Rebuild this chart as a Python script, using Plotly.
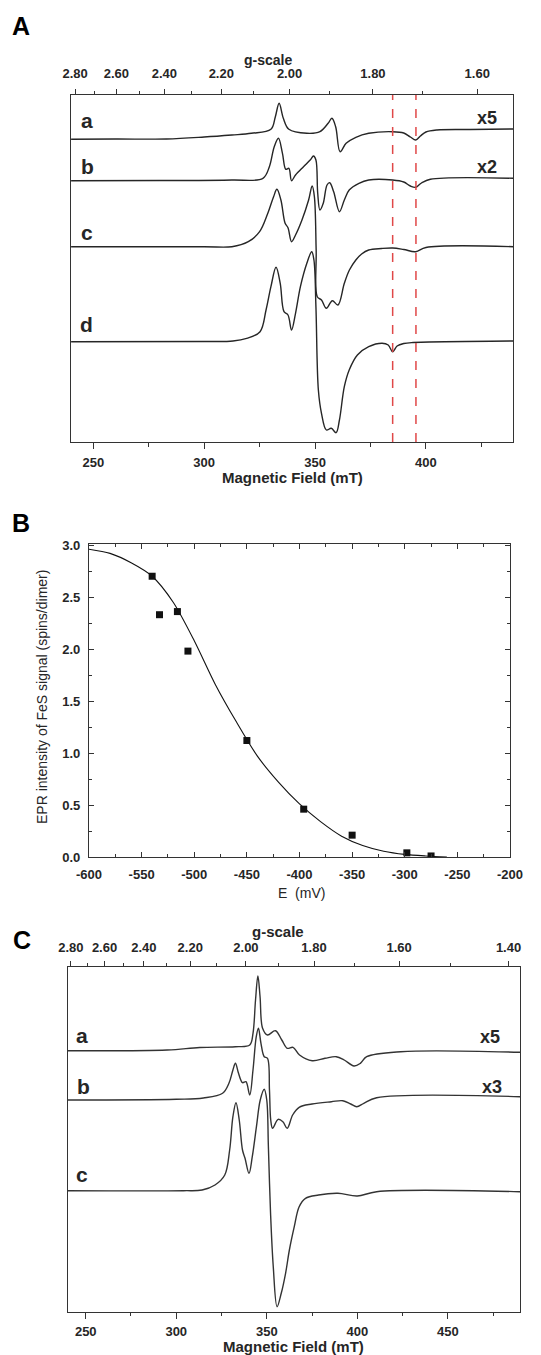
import plotly.graph_objects as go

W, H = 541, 1355
def px(x): return x / W
def py(y): return 1 - y / H

FONT = "Liberation Sans"
INK = "#262626"

# ---------------- Panel A data ----------------
G_CONST = 677.0  # h*nu/muB in mT  (B = G_CONST / g)
A_field_ticks = [250, 300, 350, 400]
A_field_minor = [275, 325, 375, 425]
A_g_major = [2.80, 2.60, 2.40, 2.20, 2.00, 1.80, 1.60]
A_g_minor = [2.70, 2.50, 2.30, 2.10, 1.90, 1.70]
A_red_lines = [385.0, 395.5]

Aa_B = [240, 260, 283, 300, 312.5, 321.3, 330.1, 332.1, 333.8, 335.7, 338.2, 346.3, 352.2, 355.9,
        357.6, 359.3, 361.3, 364, 368.4, 374.2, 385, 390, 393, 395.4, 397.5, 400, 405, 420, 439.5]
Aa_I = [-3.3, -3, -3, -1, 1, 2.7, 6.7, 19.3, 32.7, 17.7, 6.7, 2.7, 4.3, 12.7,
        17.7, 9.3, -15.7, -7.3, -1.3, 2.7, 4.3, 3, -1, -4, 0, 4, 6, 6.5, 7]

Ab_B = [240, 280, 312.5, 326.5, 329.4, 331.6, 333.5, 335.3, 336.8, 338.2, 339.4, 341.2, 344.8, 347.8,
        349.3, 350.4, 351.2, 352.2, 353.7, 355.4, 356.6, 358.4, 361, 363.2, 365.4, 369.8, 374.2, 385,
        390, 393, 395.4, 398, 402, 439.5]
Ab_I = [-0.7, -0.5, 0, 1.7, 13.3, 33.3, 41.7, 26.7, 10.7, 11.7, -0.7, 5, 13.3, 20,
        24, 20, -13.3, -30, -23.3, -5, -2.7, -11.7, -31.7, -20, -10, -3.3, 0, 0,
        -2, -6, -7.3, -3, 0.7, 1.7]

Ac_B = [240, 300, 312.5, 319.9, 325, 328.7, 331.3, 332.8, 334.6, 336.5, 337.8, 339.4, 341.2, 344.1,
        347.1, 348.7, 349.7, 350.5, 351, 352.9, 355.1, 357.8, 360.3, 363.2, 365.5, 368.4, 371, 374.2,
        380, 385, 390, 395.4, 400, 439.5]
Ac_I = [0.3, 0.3, 0.3, 5.3, 15.3, 33.7, 50.3, 57.7, 47, 23.7, 19.3, 5.3, 12, 27,
        47, 61, 50.3, -3, -49.7, -53, -61.3, -53.7, -58, -36.3, -23, -13, -7, -3,
        -1.5, -1, -2.5, -4.7, -0.5, 0.3]

Ad_B = [240, 300, 313, 319.2, 325.2, 327.9, 330.1, 332.4, 334.3, 336, 337.8, 339.4, 341.2, 343.4,
        346.3, 348.5, 349.5, 350.4, 351.5, 352.9, 355.1, 357.3, 359.5, 361, 363.2, 365.4, 369.1, 374.2,
        380.2, 383, 385, 387, 390, 394.2, 439.5]
Ad_I = [-0.2, 0, 0.5, 3.2, 9.8, 31.5, 54.8, 74.2, 58.2, 29.8, 26.5, 11.5, 28.2, 54.8,
        78.2, 89.8, 81.5, 34.8, -48.5, -71.8, -88.5, -86.8, -91.2, -78.5, -45.2, -28.5, -13.5, -5.2,
        -1.8, -3.5, -10.2, -4.5, -2, -1, 0.5]

# ---------------- Panel B data ----------------
B_E_ticks = [-600, -550, -500, -450, -400, -350, -300, -250, -200]
B_E_pts = [-540, -533, -516, -506, -450, -396, -350, -298, -275]
B_S_pts = [2.70, 2.33, 2.36, 1.98, 1.12, 0.46, 0.21, 0.04, 0.01]
B_E_fit = [-600, -580, -560, -540, -520, -500, -480, -460, -440, -420, -400, -380, -360,
           -340, -320, -300, -280, -260]
B_S_fit = [2.96, 2.92, 2.83, 2.70, 2.45, 2.08, 1.66, 1.30, 0.97, 0.72, 0.51, 0.34, 0.20,
           0.11, 0.055, 0.025, 0.01, 0.0]

# ---------------- Panel C data ----------------
C_field_ticks = [250, 300, 350, 400, 450]
C_field_minor = [275, 325, 375, 425, 475]
C_g_major = [2.80, 2.60, 2.40, 2.20, 2.00, 1.80, 1.60, 1.40]
C_g_minor = [2.70, 2.50, 2.30, 2.10, 1.90, 1.70, 1.50]

Ca_B = [240, 295, 313, 332.7, 340.6, 342.4, 343.8, 345.1, 346.3, 347.7, 350.4, 354.8, 358.3, 361.3,
        364.5, 368.1, 375.1, 382.2, 388.4, 392.8, 398.2, 401.7, 405.2, 424, 490]
Ca_I = [-0.7, 0, 2.5, 3.3, 5, 16.7, 50, 74, 53.3, 21.7, 15, 19.3, 10, 1.7,
        2.7, -5, -10.7, -8.3, -6.7, -10, -16, -13.3, -6.7, -1.7, -2.3]

Cb_B = [240, 300, 315, 325.6, 329.1, 331.3, 332.7, 334.4, 336.6, 338.5, 340.6, 342.4, 344.2, 345.4,
        346.8, 348.6, 350.4, 351.5, 352.2, 353.2, 356.3, 358.9, 361.3, 364.3, 367.9, 375, 385.7, 392,
        396.4, 399.7, 403.6, 410.7, 490]
Cb_I = [-1, -0.3, 1, 5.7, 15.7, 29, 35.7, 25.7, 16.3, 17.3, 4, 29, 62.3, 70.7,
        55.7, 42.3, 40.7, 9, -21, -29.3, -20.3, -22.7, -29.3, -16, -8.3, -5, -2.7, -1.7,
        -5, -7.7, -4.3, 1.3, 2.3]

Cc_B = [240, 304, 314.3, 321.4, 326.8, 329.5, 331.3, 333, 334.8, 336.6, 338, 340.2, 342, 344.3,
        346.4, 348.6, 350, 350.9, 352.1, 353.6, 355.7, 358, 360.4, 362.5, 365.2, 367.9, 371.4, 378.6,
        389.3, 400, 410.7, 490]
Cc_I = [0.3, 0.3, 1, 6, 16, 41, 74.3, 88.3, 71, 41, 32.7, 17.7, 34.3, 64.3,
        91, 101.7, 91, 44.3, -22.3, -75.7, -115.7, -102.3, -82.3, -59, -35.7, -15.7, -7.3, -4,
        -2.3, -5, -0.7, -0.7]

# ---------------- geometry (pixels) ----------------
A_box = dict(l=71, r=513.3, t=95, b=442)
B_box = dict(l=89, r=510, t=544, b=857)
C_box = dict(l=68, r=520, t=966.7, b=1311.7)
A_range = [239.95, 439.4]
C_range = [240.2, 489.9]
A_offsets = [306, 262, 195, 100.5]
C_offsets = [261.7, 212.7, 120.7]

fig = go.Figure()

def line_trace(x, y, xa, ya, width=1.4, color=INK, shape="linear", smooth=1.0):
    fig.add_trace(go.Scatter(x=x, y=y, mode="lines", xaxis=xa, yaxis=ya,
                             line=dict(color=color, width=width, shape=shape, smoothing=smooth),
                             showlegend=False, hoverinfo="skip"))

for Bv, Iv, off in zip([Aa_B, Ab_B, Ac_B, Ad_B], [Aa_I, Ab_I, Ac_I, Ad_I], A_offsets):
    line_trace(Bv, [off + v for v in Iv], "x", "y", shape="spline")
fig.add_trace(go.Scatter(x=[300], y=[-10], mode="markers", xaxis="x2", yaxis="y",
                         marker=dict(opacity=0), showlegend=False, hoverinfo="skip"))

line_trace(B_E_fit, B_S_fit, "x3", "y3", width=1.1, color="#111", shape="spline", smooth=0.8)
fig.add_trace(go.Scatter(x=B_E_pts, y=B_S_pts, mode="markers", xaxis="x3", yaxis="y3",
                         marker=dict(symbol="square", size=7, color="#111"),
                         showlegend=False, hoverinfo="skip"))

for Bv, Iv, off in zip([Ca_B, Cb_B, Cc_B], [Ca_I, Cb_I, Cc_I], C_offsets):
    line_trace(Bv, [off + v for v in Iv], "x4", "y4", width=1.4, color="#333", shape="spline")
fig.add_trace(go.Scatter(x=[300], y=[-10], mode="markers", xaxis="x5", yaxis="y4",
                         marker=dict(opacity=0), showlegend=False, hoverinfo="skip"))

tickfont_b = dict(family=FONT, size=13, color=INK, weight="bold")
axline = dict(showline=True, linecolor="#333", linewidth=1.3, showgrid=False, zeroline=False,
              automargin=False)

fig.update_layout(
    width=W, height=H, margin=dict(l=0, r=0, t=0, b=0, pad=0, autoexpand=False),
    paper_bgcolor="white", plot_bgcolor="white", showlegend=False,
    xaxis=dict(domain=[px(A_box["l"]), px(A_box["r"])], range=A_range, anchor="y",
               tickmode="array", tickvals=A_field_ticks, ticks="outside", ticklen=6, tickwidth=1.2,
               tickcolor="#333", minor=dict(tickmode="array", tickvals=A_field_minor, ticks="outside",
                                            ticklen=3.5, tickwidth=1.2, tickcolor="#333"),
               mirror=True, tickfont=tickfont_b, ticklabelstandoff=2, **axline),
    xaxis2=dict(overlaying="x", side="top", anchor="y", range=A_range,
                tickmode="array", tickvals=[G_CONST / g for g in A_g_major],
                ticktext=["%.2f" % g for g in A_g_major], ticks="outside", ticklen=5, tickwidth=1.2,
                tickcolor="#333", minor=dict(tickmode="array", tickvals=[G_CONST / g for g in A_g_minor],
                                             ticks="outside", ticklen=3, tickwidth=1.2, tickcolor="#333"),
                tickfont=tickfont_b, ticklabelstandoff=6, **axline),
    yaxis=dict(domain=[py(A_box["b"]), py(A_box["t"])], range=[0, A_box["b"] - A_box["t"]], anchor="x",
               showticklabels=False, ticks="", mirror=True, **axline),
    xaxis3=dict(domain=[px(B_box["l"]), px(B_box["r"])], range=[-600, -200], anchor="y3",
                tickmode="array", tickvals=B_E_ticks, ticktext=[str(v) for v in B_E_ticks],
                ticks="inside", ticklen=5, tickwidth=1, tickcolor="#333",
                minor=dict(dtick=25, ticks="inside", ticklen=3, tickwidth=1, tickcolor="#333"),
                mirror="allticks", tickfont=tickfont_b, ticklabelstandoff=5, **axline),
    yaxis3=dict(domain=[py(B_box["b"]), py(B_box["t"])], range=[0, 3.01], anchor="x3",
                tick0=0, dtick=0.5, tickformat=".1f", ticks="inside", ticklen=5, tickwidth=1,
                tickcolor="#333", minor=dict(dtick=0.25, ticks="inside", ticklen=3, tickwidth=1, tickcolor="#333"),
                mirror="allticks", tickfont=tickfont_b, ticklabelstandoff=5, **axline),
    xaxis4=dict(domain=[px(C_box["l"]), px(C_box["r"])], range=C_range, anchor="y4",
                tickmode="array", tickvals=C_field_ticks, ticks="outside", ticklen=6, tickwidth=1.2,
                tickcolor="#333", minor=dict(tickmode="array", tickvals=C_field_minor, ticks="outside",
                                             ticklen=3.5, tickwidth=1.2, tickcolor="#333"),
                mirror=True, tickfont=tickfont_b, ticklabelstandoff=2, **axline),
    xaxis5=dict(overlaying="x4", side="top", anchor="y4", range=C_range,
                tickmode="array", tickvals=[G_CONST / g for g in C_g_major],
                ticktext=["%.2f" % g for g in C_g_major], ticks="outside", ticklen=5, tickwidth=1.2,
                tickcolor="#333", minor=dict(tickmode="array", tickvals=[G_CONST / g for g in C_g_minor],
                                             ticks="outside", ticklen=3, tickwidth=1.2, tickcolor="#333"),
                tickfont=tickfont_b, ticklabelstandoff=3, **axline),
    yaxis4=dict(domain=[py(C_box["b"]), py(C_box["t"])], range=[0, C_box["b"] - C_box["t"]], anchor="x4",
                showticklabels=False, ticks="", mirror=True, **axline),
)

for xv in A_red_lines:
    fig.add_shape(type="line", xref="x", yref="y domain", x0=xv, x1=xv, y0=0, y1=1,
                  line=dict(color="#e04848", width=1.5, dash="dash"))

def label(text, x, y, size, bold=True, angle=0, color=INK):
    fig.add_annotation(text=("<b>%s</b>" % text) if bold else text, x=px(x), y=py(y),
                       xref="paper", yref="paper", showarrow=False, textangle=angle,
                       xanchor="center", yanchor="middle",
                       font=dict(family=FONT, size=size, color=color))

label("A", 21, 26, 25, color="#000")
label("g-scale", 268, 60, 14)
label("Magnetic Field (mT)", 292, 477, 15)
for t, x, y in [("a", 87, 120), ("b", 87, 166), ("c", 87, 232), ("d", 86, 324)]:
    label(t, x, y, 21)
for t, x, y in [("x5", 486.7, 118), ("x2", 486.7, 166.7)]:
    label(t, x, y, 18)

label("B", 21, 523, 25, color="#000")
label("E  (mV)", 301.7, 893, 14, bold=False)
label("EPR intensity of FeS signal (spins/dimer)", 42, 697, 14, bold=False, angle=-90)

label("C", 22, 940, 25, color="#000")
label("g-scale", 278, 931.7, 15)
label("Magnetic Field (mT)", 293.3, 1346, 15)
for t, x, y in [("a", 81.7, 1035.5), ("b", 83.3, 1086), ("c", 81.7, 1174)]:
    label(t, x, y, 21)
for t, x, y in [("x5", 490, 1036.7), ("x3", 491.7, 1086.7)]:
    label(t, x, y, 18)

fig.write_html("out.html", config={"displayModeBar": False},
               post_script="document.body.style.margin='0';document.body.style.overflow='hidden';")
